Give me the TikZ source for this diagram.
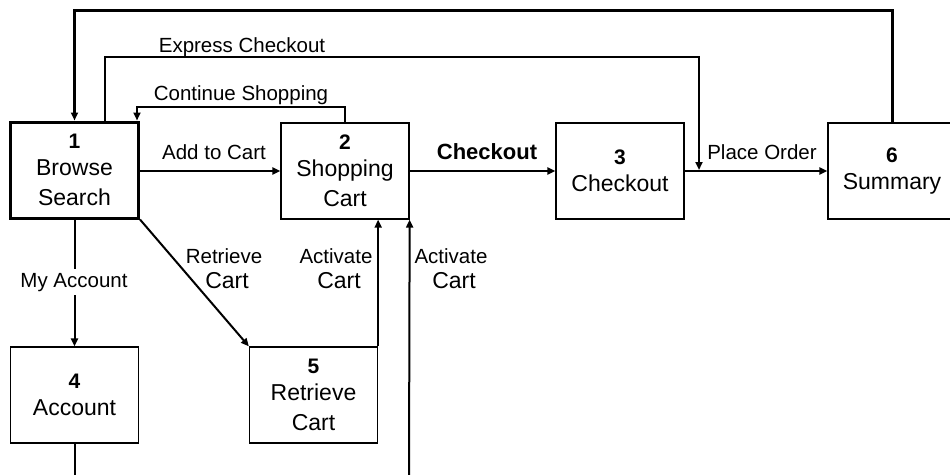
\documentclass[tikz,border=0pt]{standalone}
\usepackage{fontspec}
\setmainfont{Liberation Sans}
\usetikzlibrary{arrows.meta}
\newcommand\boxnum[1]{{\fontsize{21}{21}\selectfont\bfseries #1}}
\begin{document}
\begin{tikzpicture}[x=1pt,y=-1pt,
  box/.style={draw, line width=1.3pt, minimum width=128pt, minimum height=96pt,
    inner sep=0pt, align=center, font=\fontsize{23}{30}\selectfont},
  mainbox/.style={box, line width=3pt},
  flow/.style={line width=2pt, -{Triangle[length=8pt,width=7pt]}},
  link/.style={line width=2pt},
  lbl/.style={font=\fontsize{20.5}{24}\selectfont, inner sep=0pt, anchor=base},
  lblbig/.style={font=\fontsize{23}{24}\selectfont, inner sep=0pt, anchor=base}]
\useasboundingbox (0,0) rectangle (950,474);

% process boxes
\node[mainbox] (b1) at (74.5,170) {\boxnum{1}\\[-3pt]Browse\\Search};
\node[box] (b2) at (345,171) {\boxnum{2}\\[-3pt]Shopping\\Cart};
\node[box] (b3) at (620,171) {\boxnum{3}\\[-3pt]Checkout};
\node[box] (b6) at (892,171) {\boxnum{6}\\[-3pt]Summary};
\node[box] (b4) at (74.5,395) {\boxnum{4}\\[-3pt]Account};
\node[box] (b5) at (313.5,395) {\boxnum{5}\\[-3pt]Retrieve\\Cart};

% routing points
\coordinate (topY) at (0,10);
\coordinate (exA) at (105,57);
\coordinate (poJ) at (699,170);
\coordinate (cs) at (137,107);
\coordinate (bottomR) at (409,480);
\coordinate (bottomL) at (74.5,480);

% Summary back to Browse
\draw[flow, line width=3pt] (b6.north) -- (b6.north |- topY) -| (b1.north);
% Express checkout
\draw[flow, line width=2.5pt] (b1.north -| exA) -- (exA) -| (poJ);
% Continue shopping
\draw[flow] (b2.north) |- (cs) -- (cs |- b1.north);
% main row
\draw[flow] (b1.east |- b2.west) -- (b2.west);
\draw[flow] (b2.east) -- (b3.west);
\draw[flow] (b3.east) -- (b6.west);
% lower part
\draw[flow] (b1.south) -- (b4.north);
\draw[flow] (b1.south east) -- (b5.north west);
\draw[flow] (b5.north east) -- (b5.north east |- b2.south);
\draw[flow] (bottomR) -- (b2.south east);
\draw[link] (b4.south) -- (bottomL);

% labels
\node[lbl] (lex) at (242,52) {Express Checkout};
\node[lbl] (lcs) at (241,100) {Continue Shopping};
\node[lbl] (lad) at (214,159) {Add to Cart};
\node[lbl, font=\fontsize{22}{24}\selectfont\bfseries] (lco) at (487,159) {Checkout};
\node[lbl] (lpo) at (762,159) {Place Order};
\node[lbl, fill=white, inner sep=4pt] (lma) at (74,287) {My Account};
\node[lbl] (lrt) at (224,263) {Retrieve};
\node[lblbig] (lrc) at (227,288) {Cart};
\node[lbl] (la1) at (336,263) {Activate};
\node[lblbig] (lc1) at (339,288) {Cart};
\node[lbl] (la2) at (451,263) {Activate};
\node[lblbig] (lc2) at (454,288) {Cart};
\end{tikzpicture}
\end{document}
